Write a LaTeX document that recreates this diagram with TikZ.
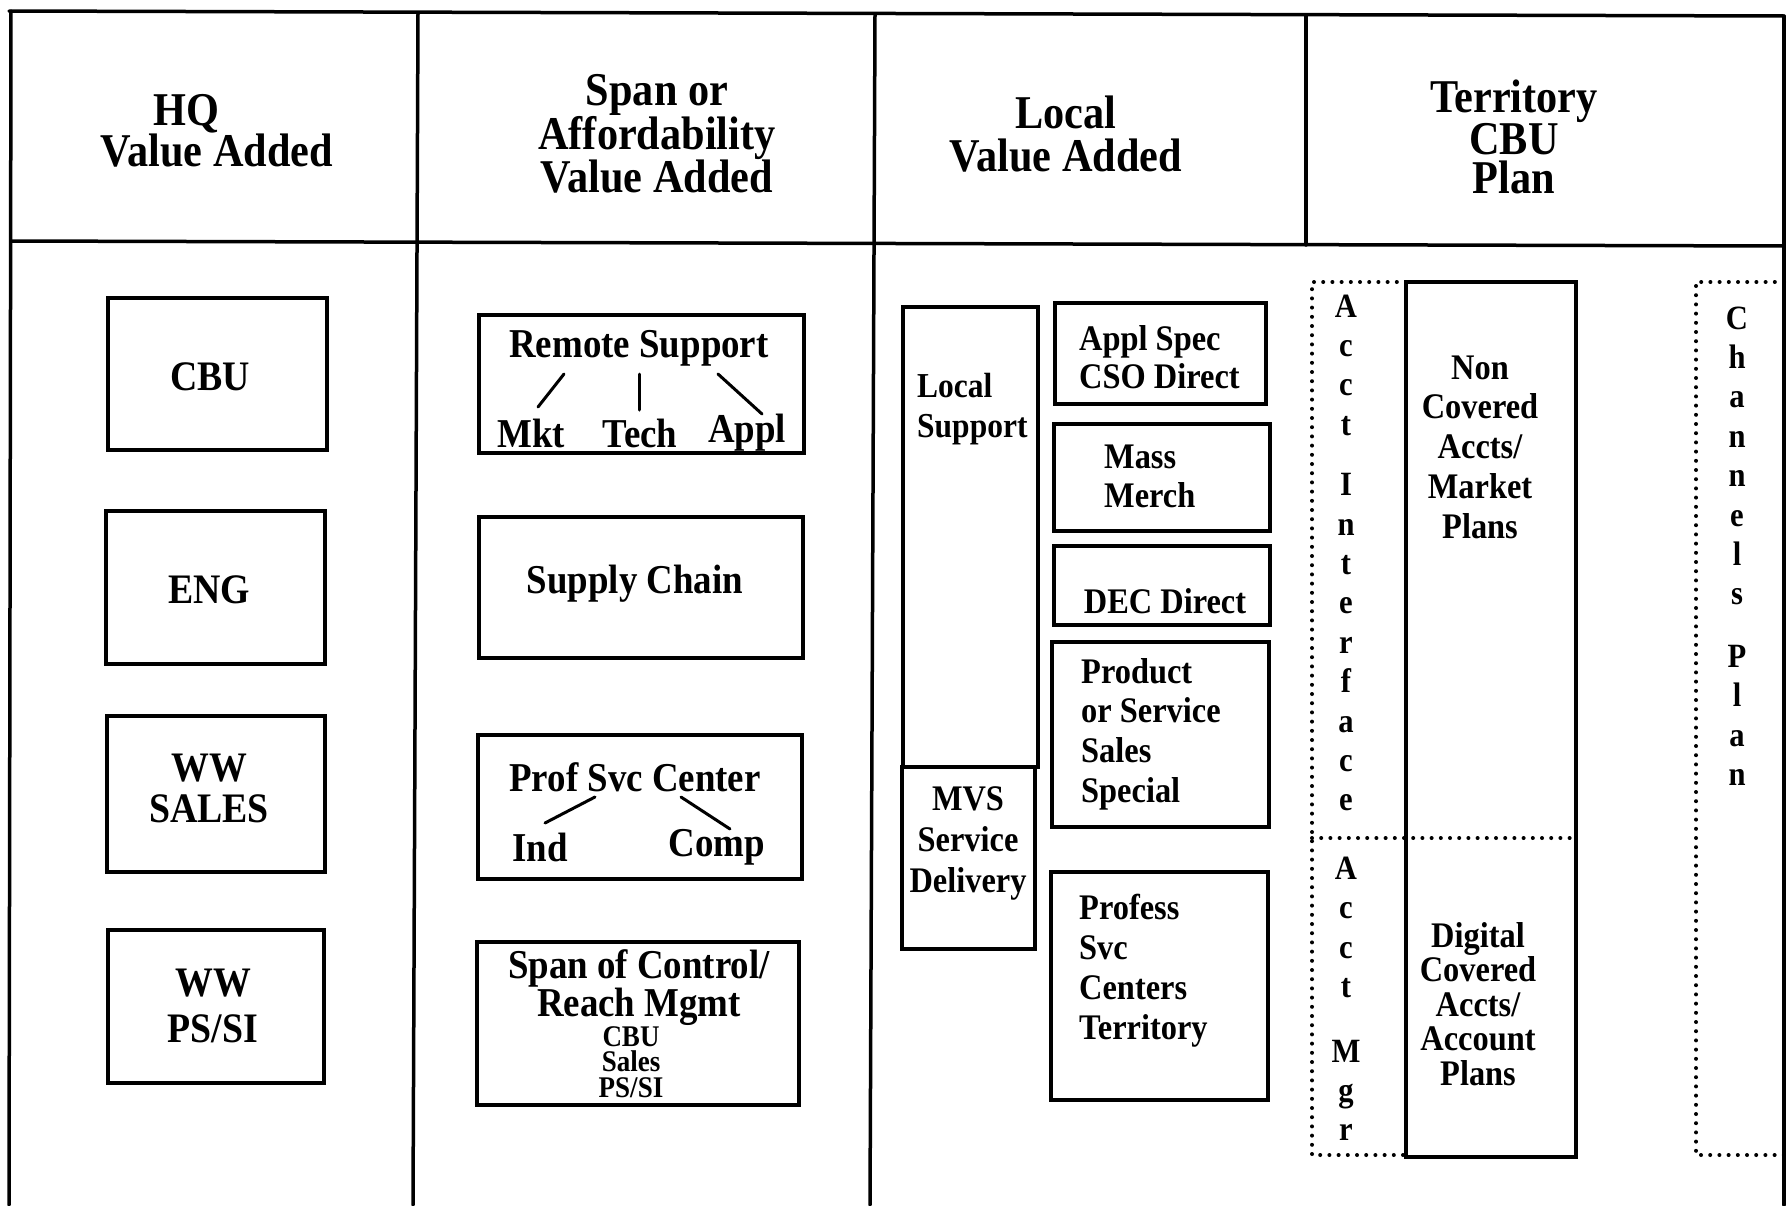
\documentclass[tikz,border=0pt]{standalone}
\usepackage{fontspec}
\setmainfont{Liberation Serif}[FakeStretch=0.9]
\begin{document}
\begin{tikzpicture}[x=1pt,y=-1pt,
  grid/.style={line width=3.5pt, line cap=round},
  box/.style={draw, line width=3.8pt, inner sep=0pt, outer sep=0pt, anchor=north west},
  dots/.style={line width=4pt, line cap=round, dash pattern=on 0pt off 9.2pt},
  hd/.style={font=\fontsize{47}{41}\selectfont\bfseries, align=center, inner sep=0pt},
  ta/.style={font=\fontsize{42}{41}\selectfont\bfseries, align=center, inner sep=0pt},
  tb/.style={font=\fontsize{41}{40}\selectfont\bfseries, align=center, inner sep=0pt},
  tc/.style={font=\fontsize{36}{40}\selectfont\bfseries, align=center, inner sep=0pt},
  tcl/.style={font=\fontsize{36}{40}\selectfont\bfseries, align=left, inner sep=0pt, anchor=west},
  vl/.style={font=\fontsize{34}{39.4}\selectfont\bfseries, align=center, inner sep=0pt},
  br/.style={line width=3pt, line cap=round}]
\useasboundingbox (0,0) rectangle (1788,1205);

% grid
\draw[grid] (9,11) -- (1784,16);
\draw[grid] (11,241) -- (1784,246);
\draw[grid] (11,11) -- (9,1205);
\draw[grid] (418,13) -- (413,1205);
\draw[grid] (875,14) -- (870,1205);
\draw[grid] (1306,15) -- (1306,245);
\draw[grid] (1784,16) -- (1784,1205);

% headers
\node[hd, font=\fontsize{47}{38}\selectfont\bfseries] (h1) at (217,131) {HQ\hspace*{62pt}\\Value Added};
\node[hd, font=\fontsize{47}{43}\selectfont\bfseries] (h2) at (657,134) {Span or\\Affordability\\Value Added};
\node[hd, font=\fontsize{47}{43}\selectfont\bfseries] (h3) at (1066,134) {Local\\Value Added};
\node[hd, font=\fontsize{47}{39}\selectfont\bfseries] (h4) at (1514,137) {Territory\\CBU\\Plan};

% column 1
\node[box, minimum width=219pt, minimum height=152pt] (cbub) at (108,298) {};
\node[box, minimum width=219pt, minimum height=153pt] (engb) at (106,511) {};
\node[box, minimum width=218pt, minimum height=156pt] (wwsb) at (107,716) {};
\node[box, minimum width=216pt, minimum height=153pt] (wwpb) at (108,930) {};
\node[ta] (tcbu) at (210,377) {CBU};
\node[ta] (teng) at (209,590) {ENG};
\node[ta] (twws) at (209,788) {WW\\SALES};
\node[ta, font=\fontsize{42}{46}\selectfont\bfseries] (twwp) at (213,1006) {WW\\PS/SI};

% column 2
\node[box, minimum width=325pt, minimum height=138pt] (rsb) at (479,315) {};
\node[box, minimum width=324pt, minimum height=141pt] (scb) at (479,517) {};
\node[box, minimum width=324pt, minimum height=144pt] (psb) at (478,735) {};
\node[box, minimum width=322pt, minimum height=163pt] (spb) at (477,942) {};
\node[tb] (trs) at (639,348) {Remote Support};
\node[tb] (tmkt) at (531,433) {Mkt};
\node[tb] (ttech) at (640,433) {Tech};
\node[tb] (tappl) at (747,433) {Appl};
\coordinate (r1a) at (564,374); \coordinate (r1b) at (538,407);
\coordinate (r2a) at (639,374); \coordinate (r2b) at (639,410);
\coordinate (r3a) at (718,374); \coordinate (r3b) at (762,414);
\draw[br] (r1a) -- (r1b);
\draw[br] (r2a) -- (r2b);
\draw[br] (r3a) -- (r3b);
\node[tb] (tsc) at (635,584) {Supply Chain};
\node[tb] (tps) at (635,777) {Prof Svc Center};
\node[tb] (tind) at (540,847) {Ind};
\node[tb] (tcomp) at (717,847) {Comp};
\coordinate (p1a) at (595,797); \coordinate (p1b) at (545,823);
\coordinate (p2a) at (681,797); \coordinate (p2b) at (730,829);
\draw[br] (p1a) -- (p1b);
\draw[br] (p2a) -- (p2b);
\node[tb, font=\fontsize{41}{38}\selectfont\bfseries] (tsp) at (639,988) {Span of Control/\\Reach Mgmt};
\node[tb, font=\fontsize{30}{25.5}\selectfont\bfseries] (tsp2) at (631,1062) {CBU\\Sales\\PS/SI};

% column 3
\node[box, minimum width=135pt, minimum height=460pt] (lsb) at (903,307) {};
\node[box, minimum width=133pt, minimum height=182pt] (mvb) at (902,767) {};
\node[box, minimum width=211pt, minimum height=101pt] (apb) at (1055,303) {};
\node[box, minimum width=216pt, minimum height=107pt] (mmb) at (1054,424) {};
\node[box, minimum width=216pt, minimum height=79pt] (dcb) at (1054,546) {};
\node[box, minimum width=217pt, minimum height=185pt] (pdb) at (1052,642) {};
\node[box, minimum width=217pt, minimum height=228pt] (pfb) at (1051,872) {};
\node[tcl, font=\fontsize{35}{40}\selectfont\bfseries] (tls) at (917,409) {Local\\Support};
\node[tc, font=\fontsize{36}{41}\selectfont\bfseries] (tmvs) at (968,843) {MVS\\Service\\Delivery};
\node[tcl, font=\fontsize{36}{38}\selectfont\bfseries] (tap) at (1079,357) {Appl Spec\\CSO Direct};
\node[tcl, font=\fontsize{36}{39}\selectfont\bfseries] (tmm) at (1104,476) {Mass\\Merch};
\node[tc] (tdc) at (1165,601) {DEC Direct};
\node[tcl, font=\fontsize{36}{39.7}\selectfont\bfseries] (tpd) at (1081,734) {Product\\or Service\\Sales\\Special};
\node[tcl] (tpf) at (1079,971) {Profess\\Svc\\Centers\\Territory};

% column 4
\draw[dots] (1406,282) -- (1312,282) -- (1312,1155) -- (1406,1155);
\draw[dots] (1312,838) -- (1576,838);
\draw[dots] (1784,282) -- (1696,282) -- (1696,1155) -- (1784,1155);
\node[box, minimum width=170pt, minimum height=875pt] (ncb) at (1406,282) {};
\node[tc, font=\fontsize{36}{39.75}\selectfont\bfseries] (tnc) at (1480,447) {Non\\Covered\\Accts/\\Market\\Plans};
\node[tc, font=\fontsize{36}{34.5}\selectfont\bfseries] (tdg) at (1478,1004) {Digital\\Covered\\Accts/\\Account\\Plans};
\node[vl] (tai) at (1346,553) {A\\c\\c\\t\\[21pt]I\\n\\t\\e\\r\\f\\a\\c\\e};
\node[vl] (tam) at (1346,999) {A\\c\\c\\t\\[25pt]M\\g\\r};
\node[vl] (tcp) at (1737,546) {C\\h\\a\\n\\n\\e\\l\\s\\[23pt]P\\l\\a\\n};
\end{tikzpicture}
\end{document}
